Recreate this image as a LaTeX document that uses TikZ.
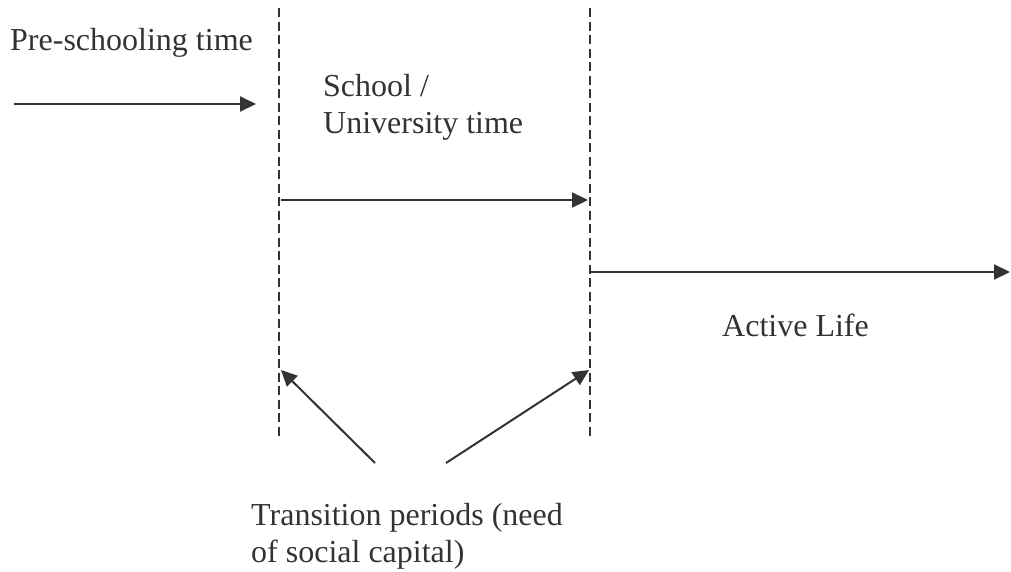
\documentclass[tikz,border=0pt]{standalone}
\usepackage{fontspec}
\setmainfont{Liberation Serif}
\usetikzlibrary{arrows.meta}
\definecolor{ink}{HTML}{333333}
\begin{document}
\begin{tikzpicture}[x=1pt,y=-1pt,
  label/.style={inner sep=0pt,anchor=base west,text=ink,font=\fontsize{32}{37}\selectfont,align=left},
  boundary/.style={draw=ink,line width=2pt,dash pattern=on 9pt off 4.5pt},
  flow/.style={draw=ink,line width=2pt,-{Triangle[length=16pt,width=15pt]}}]
\useasboundingbox (0,0) rectangle (1011,571);

% phase boundaries
\coordinate (b1top) at (279,8);
\coordinate (b1bot) at (279,440);
\coordinate (b2top) at (590,8);
\coordinate (b2bot) at (590,440);
\draw[boundary] (b1top) -- (b1bot);
\draw[boundary] (b2top) -- (b2bot);

% labels (base anchor sits on the last line)
\node[label] (pre) at (10,50) {Pre-schooling time};
\node[label] (school) at (323,133) {School /\\University time};
\node[label] (active) at (722,336) {Active Life};
\node[label] (trans) at (251,562) {Transition periods (need\\of social capital)};

% time arrows
\coordinate (a1s) at (14,104);
\coordinate (a1e) at (256,104);
\coordinate (a2s) at (281,200);
\coordinate (a2e) at (588,200);
\coordinate (a3s) at (591,272);
\coordinate (a3e) at (1010,272);
\draw[flow] (a1s) -- (a1e);
\draw[flow] (a2s) -- (a2e);
\draw[flow] (a3s) -- (a3e);

% transition pointers
\coordinate (t1s) at (375,463);
\coordinate (t1e) at (281,370);
\coordinate (t2s) at (446,463);
\coordinate (t2e) at (589,370);
\draw[flow] (t1s) -- (t1e);
\draw[flow] (t2s) -- (t2e);
\end{tikzpicture}
\end{document}
